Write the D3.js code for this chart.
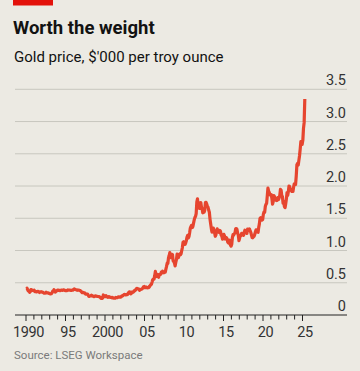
<!DOCTYPE html>
<html>
<head>
<meta charset="utf-8">
<script src="https://cdn.jsdelivr.net/npm/d3@7"></script>
<style>
  html, body { margin: 0; padding: 0; background: #eceae3; }
  svg { display: block; }
  text { font-family: Roboto, "Noto Sans", sans-serif; }
</style>
</head>
<body>
<svg id="chart" width="360" height="371"></svg>
<script>
// Gold price, $'000 per troy ounce, monthly, starting January 1990
const startYear = 1990;
const prices1990s = [
  0.410,0.417,0.393,0.374,0.369,0.352,0.362,0.395,0.390,0.380,0.381,0.378,
  0.384,0.363,0.363,0.358,0.357,0.367,0.367,0.356,0.349,0.358,0.360,0.361,
  0.354,0.354,0.345,0.338,0.337,0.341,0.353,0.343,0.345,0.345,0.335,0.334,
  0.329,0.329,0.330,0.342,0.367,0.371,0.392,0.379,0.355,0.365,0.373,0.383,
  0.387,0.382,0.384,0.378,0.381,0.386,0.385,0.381,0.391,0.389,0.384,0.379,
  0.379,0.377,0.381,0.391,0.385,0.387,0.386,0.383,0.383,0.383,0.386,0.387,
  0.400,0.405,0.396,0.393,0.392,0.385,0.383,0.387,0.383,0.381,0.378,0.369,
  0.355,0.346,0.352,0.344,0.344,0.341,0.324,0.324,0.323,0.325,0.306,0.289,
  0.289,0.297,0.296,0.308,0.299,0.292,0.293,0.284,0.289,0.296,0.294,0.291,
  0.287,0.287,0.286,0.282,0.276,0.261,0.256,0.257,0.265,0.311,0.293,0.283
];
const prices2000s = [
  0.285,0.300,0.286,0.280,0.275,0.285,0.282,0.274,0.274,0.270,0.266,0.272,
  0.265,0.262,0.263,0.261,0.272,0.270,0.268,0.273,0.283,0.283,0.276,0.275,
  0.282,0.296,0.294,0.302,0.314,0.321,0.313,0.310,0.319,0.317,0.319,0.333,
  0.357,0.359,0.340,0.328,0.355,0.356,0.351,0.360,0.379,0.379,0.390,0.407,
  0.414,0.405,0.406,0.404,0.384,0.392,0.398,0.400,0.406,0.420,0.439,0.442,
  0.424,0.423,0.434,0.428,0.422,0.430,0.424,0.438,0.456,0.470,0.476,0.510,
  0.549,0.555,0.557,0.610,0.676,0.596,0.633,0.632,0.598,0.586,0.627,0.629,
  0.631,0.665,0.655,0.679,0.667,0.655,0.665,0.665,0.712,0.754,0.806,0.803,
  0.889,0.923,0.968,0.909,0.888,0.890,0.939,0.839,0.829,0.807,0.760,0.816,
  0.858,0.943,0.924,0.890,0.929,0.946,0.934,0.949,0.996,1.043,1.127,1.135
];
const prices2010s = [
  1.118,1.095,1.114,1.149,1.205,1.233,1.193,1.215,1.271,1.343,1.370,1.391,
  1.356,1.372,1.424,1.474,1.511,1.529,1.573,1.756,1.800,1.665,1.739,1.652,
  1.656,1.743,1.675,1.650,1.585,1.596,1.594,1.626,1.744,1.747,1.721,1.685,
  1.671,1.627,1.593,1.487,1.414,1.343,1.286,1.347,1.349,1.316,1.275,1.221,
  1.244,1.300,1.336,1.299,1.287,1.279,1.311,1.296,1.239,1.222,1.176,1.201,
  1.251,1.227,1.178,1.198,1.199,1.181,1.128,1.117,1.125,1.159,1.086,1.068,
  1.097,1.200,1.246,1.242,1.260,1.276,1.337,1.341,1.326,1.267,1.236,1.152,
  1.192,1.234,1.231,1.266,1.246,1.260,1.237,1.283,1.315,1.280,1.283,1.265,
  1.331,1.331,1.325,1.334,1.303,1.282,1.238,1.202,1.198,1.215,1.221,1.250,
  1.291,1.320,1.300,1.286,1.283,1.359,1.413,1.500,1.510,1.495,1.471,1.480
];
const prices2020s = [
  1.560,1.597,1.592,1.683,1.716,1.732,1.846,1.968,1.921,1.900,1.866,1.858,
  1.867,1.808,1.718,1.760,1.850,1.834,1.807,1.785,1.775,1.777,1.820,1.790,
  1.817,1.856,1.947,1.937,1.849,1.836,1.733,1.764,1.680,1.665,1.726,1.797,
  1.898,1.854,1.912,2.000,1.992,1.942,1.951,1.918,1.916,1.916,1.985,2.034,
  2.033,2.025,2.159,2.331,2.351,2.326,2.398,2.470,2.571,2.690,2.651,2.648,
  2.709,2.895,2.983,3.350
];
const yTicks = [0, 0.5, 1.0, 1.5, 2.0, 2.5, 3.0, 3.5];
const yTickLabels = ["0", "0.5", "1.0", "1.5", "2.0", "2.5", "3.0", "3.5"];
const xMajorTicks = [1990, 1995, 2000, 2005, 2010, 2015, 2020, 2025];
const xTickLabels = ["1990", "95", "2000", "05", "10", "15", "20", "25"];
const title = "Worth the weight";
const subtitle = "Gold price, $'000 per troy ounce";
const source = "Source: LSEG Workspace";

const allPrices = [...prices1990s, ...prices2000s, ...prices2010s, ...prices2020s];
const data = allPrices.map((v, i) => ({ t: startYear + i / 12 + 1 / 24, v }));

const svg = d3.select("#chart");
const x = d3.scaleLinear().domain([1990, 2025]).range([26, 302.5]);
const y = d3.scaleLinear().domain([0, 3.5]).range([315, 89.3]);
const gridLeft = 15, gridRight = 347;

// red tag
svg.append("rect").attr("x", 13).attr("y", 0).attr("width", 40).attr("height", 5.5).attr("fill", "#e3120b");

svg.append("text").attr("x", 13).attr("y", 33.5)
  .attr("font-size", 18.5).attr("font-weight", 700).attr("fill", "#121212")
  .text(title);
svg.append("text").attr("x", 14).attr("y", 61.5)
  .attr("font-size", 15).attr("fill", "#121212").text(subtitle);

// gridlines
const grid = svg.append("g");
grid.selectAll("line").data(yTicks.filter(d => d > 0)).join("line")
  .attr("x1", gridLeft).attr("x2", gridRight)
  .attr("y1", d => y(d)).attr("y2", d => y(d))
  .attr("stroke", "#c8c7bf").attr("stroke-width", 1);

// y labels
svg.append("g").selectAll("text").data(yTicks).join("text")
  .attr("x", 346).attr("y", d => y(d) - 4)
  .attr("text-anchor", "end").attr("font-size", 14.5).attr("fill", "#333")
  .text((d, i) => yTickLabels[i]);

// line
const line = d3.line().x(d => x(d.t)).y(d => y(d.v)).curve(d3.curveLinear);
svg.append("path").datum(data).attr("d", line)
  .attr("fill", "none").attr("stroke", "#e6452f").attr("stroke-width", 3.2)
  .attr("stroke-linejoin", "round").attr("stroke-linecap", "butt");

// x axis baseline
svg.append("line").attr("x1", gridLeft).attr("x2", gridRight)
  .attr("y1", y(0)).attr("y2", y(0)).attr("stroke", "#222").attr("stroke-width", 1);

// ticks
const years = d3.range(1990, 2026);
svg.append("g").selectAll("line").data(years).join("line")
  .attr("x1", d => x(d)).attr("x2", d => x(d))
  .attr("y1", y(0)).attr("y2", d => y(0) + (d % 5 === 0 ? 6 : 4.5))
  .attr("stroke", "#222").attr("stroke-width", 1);

svg.append("g").selectAll("text").data(xMajorTicks).join("text")
  .attr("x", d => x(d) + 2.5).attr("y", 337)
  .attr("text-anchor", "middle").attr("font-size", 14.5).attr("fill", "#333")
  .attr("letter-spacing", -0.4)
  .text((d, i) => xTickLabels[i]);

svg.append("text").attr("x", 14).attr("y", 358.5)
  .attr("font-size", 11.5).attr("fill", "#7a7a7a").text(source);
</script>
</body>
</html>
